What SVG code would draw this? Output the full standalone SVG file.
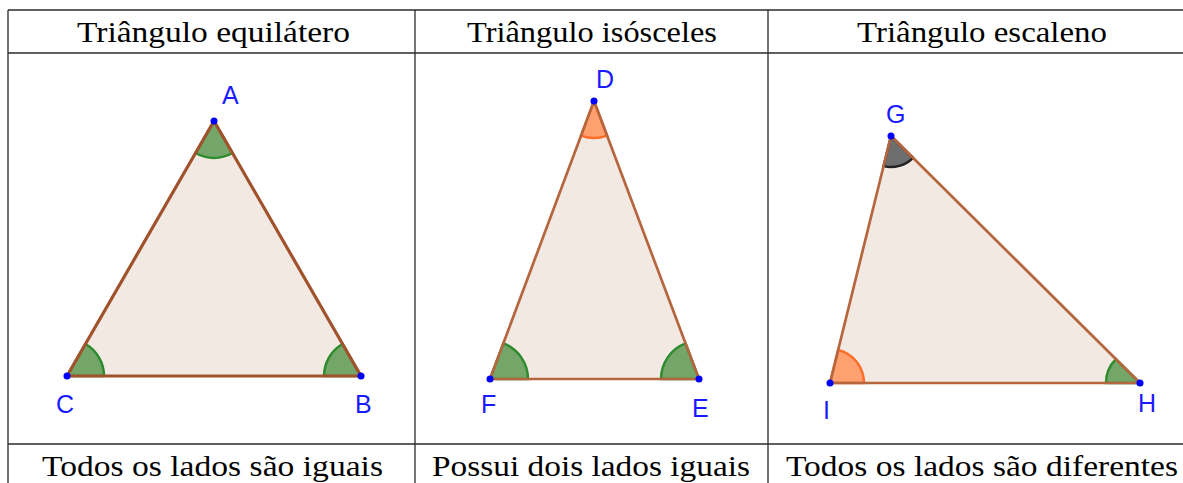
<svg xmlns="http://www.w3.org/2000/svg" width="1183" height="483" viewBox="0 0 1183 483">
<style>
.grid{stroke:#2b2b2b;stroke-width:1.3;fill:none}
.cap{font-family:"Liberation Serif","Times New Roman",Times,serif;font-size:29px;fill:#000;text-anchor:start}
.lbl{font-family:"Liberation Sans",Arial,sans-serif;font-size:25px;fill:#1a1aff}
.tfill{fill:#f3e9e3;stroke:none}
.edge1{fill:none;stroke:#a0522d;stroke-width:3.2;stroke-linejoin:round}
.edge{fill:none;stroke:#b5663f;stroke-width:2.7;stroke-linejoin:round}
.ag{fill:#74a66a;stroke:#2e8b2e;stroke-width:2.5}
.ao{fill:#ffa070;stroke:#ff6d2a;stroke-width:2.5}
.ak{fill:#6e6e6e;stroke:#222;stroke-width:2.5}
.pt{fill:#0000ff}
</style>
<rect width="1183" height="483" fill="#fff"/>
<g id="table" class="grid">
<line x1="8" y1="10" x2="1183" y2="10"/>
<line x1="8" y1="53" x2="1183" y2="53"/>
<line x1="8" y1="444" x2="1183" y2="444"/>
<line x1="8" y1="10" x2="8" y2="483"/>
<line x1="415" y1="10" x2="415" y2="483"/>
<line x1="768" y1="10" x2="768" y2="483"/>
</g>
<g id="headers">
<text class="cap" x="77" y="42" textLength="273" lengthAdjust="spacingAndGlyphs">Triângulo equilátero</text>
<text class="cap" x="467" y="42" textLength="250" lengthAdjust="spacingAndGlyphs">Triângulo isósceles</text>
<text class="cap" x="857" y="42" textLength="250" lengthAdjust="spacingAndGlyphs">Triângulo escaleno</text>
</g>
<g id="footers">
<text class="cap" x="42" y="476" textLength="341" lengthAdjust="spacingAndGlyphs">Todos os lados são iguais</text>
<text class="cap" x="432" y="476" textLength="318" lengthAdjust="spacingAndGlyphs">Possui dois lados iguais</text>
<text class="cap" x="786" y="476" textLength="392" lengthAdjust="spacingAndGlyphs">Todos os lados são diferentes</text>
</g>
<g id="tri-equilatero">
<polygon class="tfill" points="214,121 67,376 361,376"/>
<path class="ag" d="M67,376 L104,376 A37,37 0 0 0 85.5,343.96 Z"/>
<path class="ag" d="M361,376 L342.5,343.96 A37,37 0 0 0 324,376 Z"/>
<path class="ag" d="M214,121 L232.5,153.04 A37,37 0 0 1 195.5,153.04 Z"/>
<polygon class="edge1" points="214,121 67,376 361,376"/>
<circle class="pt" cx="214" cy="121" r="3.5"/>
<circle class="pt" cx="67" cy="376" r="3.5"/>
<circle class="pt" cx="361" cy="376" r="3.5"/>
<text class="lbl" x="222" y="104">A</text>
<text class="lbl" x="56" y="413">C</text>
<text class="lbl" x="355" y="413">B</text>
</g>
<g id="tri-isosceles">
<polygon class="tfill" points="594,101 490,379 699,379"/>
<path class="ag" d="M490,379 L528,379 A38,38 0 0 0 503.32,343.41 Z"/>
<path class="ag" d="M699,379 L685.57,343.45 A38,38 0 0 0 661,379 Z"/>
<path class="ao" d="M594,101 L607.07,135.61 A37,37 0 0 1 581.04,135.65 Z"/>
<polygon class="edge" points="594,101 490,379 699,379"/>
<circle class="pt" cx="594" cy="101" r="3.5"/>
<circle class="pt" cx="490" cy="379" r="3.5"/>
<circle class="pt" cx="699" cy="379" r="3.5"/>
<text class="lbl" x="596" y="88">D</text>
<text class="lbl" x="481" y="413">F</text>
<text class="lbl" x="692" y="417">E</text>
</g>
<g id="tri-escaleno">
<polygon class="tfill" points="891,136 830,383 1140,383"/>
<path class="ao" d="M830,383 L864,383 A34,34 0 0 0 838.15,349.99 Z"/>
<path class="ag" d="M1140,383 L1115.86,359.05 A34,34 0 0 0 1106,383 Z"/>
<path class="ak" d="M891,136 L913.01,157.83 A31,31 0 0 1 883.57,166.1 Z"/>
<polygon class="edge" points="891,136 830,383 1140,383"/>
<circle class="pt" cx="891" cy="136" r="3.5"/>
<circle class="pt" cx="830" cy="383" r="3.5"/>
<circle class="pt" cx="1140" cy="383" r="3.5"/>
<text class="lbl" x="886" y="123">G</text>
<text class="lbl" x="823" y="419">I</text>
<text class="lbl" x="1138" y="412">H</text>
</g>
</svg>
